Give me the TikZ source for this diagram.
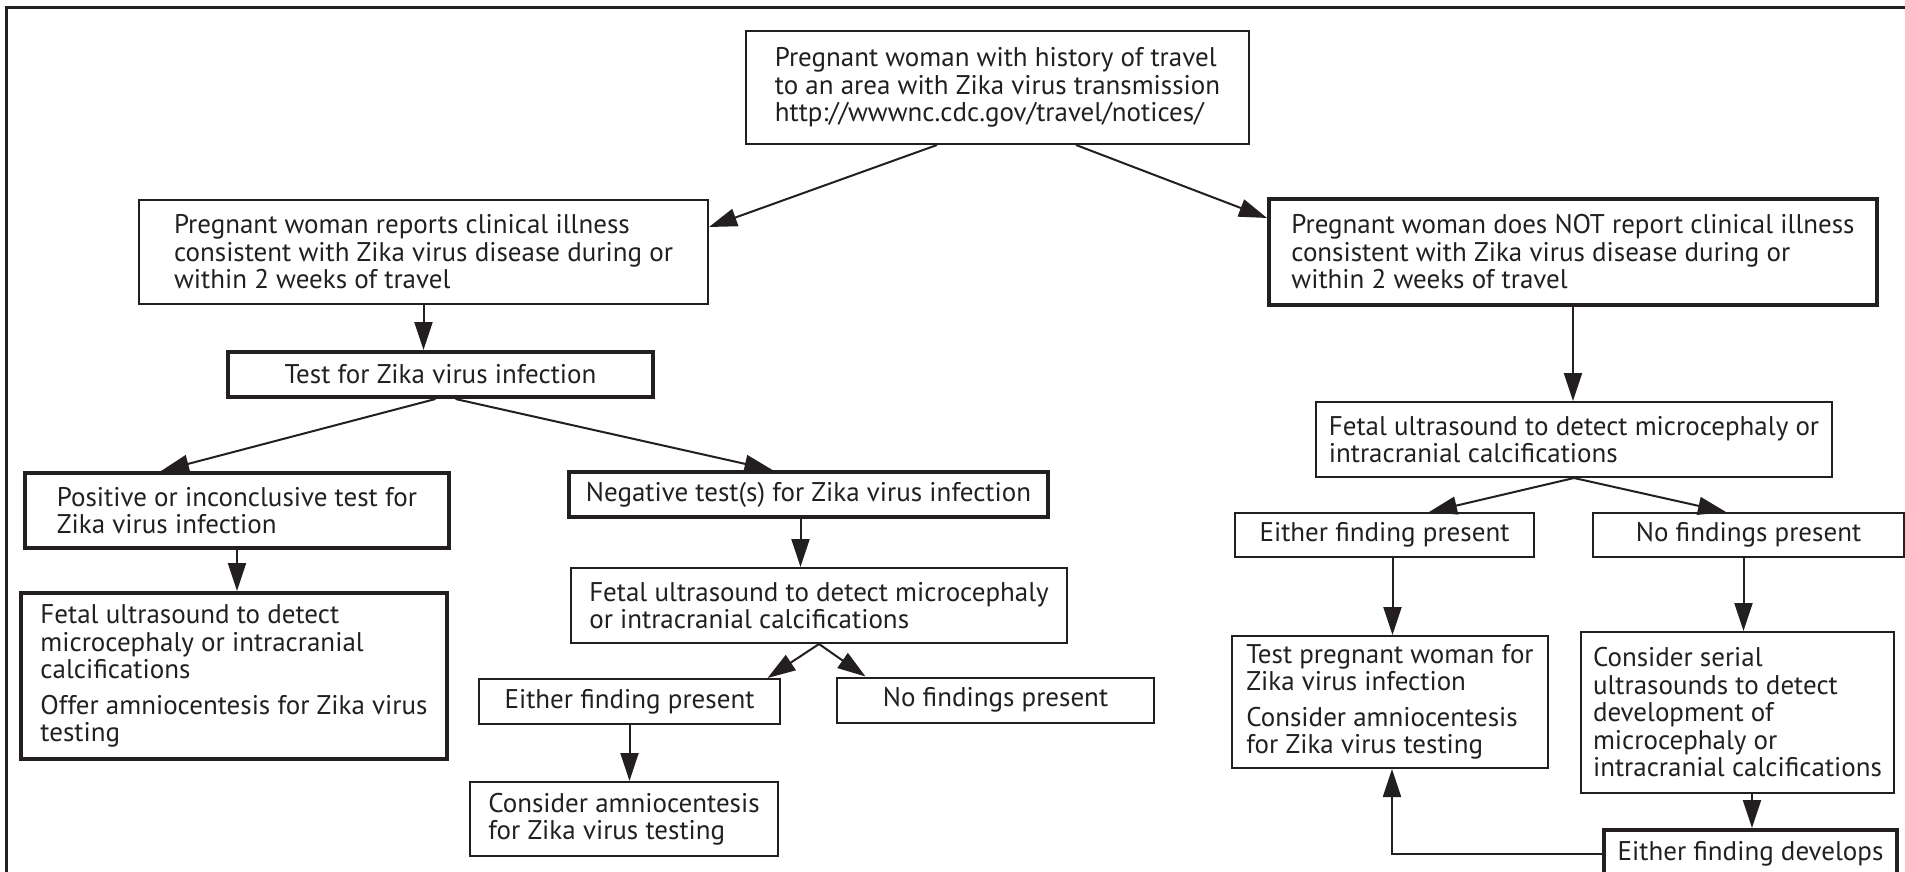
\documentclass[tikz,border=0pt]{standalone}
\usepackage{fontspec}
\setmainfont{PT Sans}
\usetikzlibrary{arrows.meta}
\definecolor{ink}{HTML}{231F20}
\newcommand{\zikafont}{\fontsize{27}{27.5}\selectfont}
\tikzset{
  box/.style={draw=ink, line width=2pt, align=left, inner sep=0pt, font=\zikafont, text=ink},
  boldbox/.style={box, line width=4pt},
  link/.style={draw=ink, line width=2pt, -{Triangle[length=28pt,width=18pt]}},
}
\begin{document}
\begin{tikzpicture}[x=1pt,y=-1pt]
\useasboundingbox (0,0) rectangle (1905,872);
\draw[ink, line width=3pt] (6,900) -- (6,8) -- (1930,8);

\node[box, minimum width=503, minimum height=113] (travel) at (997.5,87.5) {Pregnant woman with history of travel\\to an area with Zika virus transmission\\http://wwwnc.cdc.gov/travel/notices/};
\node[box, minimum width=569, minimum height=104] (ill) at (423.5,252) {Pregnant woman reports clinical illness\\consistent with Zika virus disease during or\\within 2 weeks of travel};
\node[boldbox, minimum width=608, minimum height=106] (noill) at (1573,252) {Pregnant woman does NOT report clinical illness\\consistent with Zika virus disease during or\\within 2 weeks of travel};

\node[boldbox, minimum width=425, minimum height=45] (test) at (440.5,374.5) {Test for Zika virus infection};
\node[boldbox, minimum width=424, minimum height=75] (pos) at (237,510.5) {Positive or inconclusive test for\\Zika virus infection};
\node[boldbox, minimum width=479, minimum height=45] (neg) at (808.5,494.5) {Negative test(s) for Zika virus infection};
\node[boldbox, minimum width=426, minimum height=166] (usA) at (234,676) {Fetal ultrasound to detect\\microcephaly or intracranial\\calcifications\\[8pt]Offer amniocentesis for Zika virus\\testing};
\node[box, minimum width=496, minimum height=75] (usB) at (819,605.5) {Fetal ultrasound to detect microcephaly\\or intracranial calcifications};
\node[box, minimum width=301, minimum height=45] (findB) at (629.5,701.5) {Either finding present};
\node[box, minimum width=317, minimum height=45] (noneB) at (995.5,700) {No findings present};
\node[box, minimum width=308, minimum height=74] (amnioB) at (624,819) {Consider amniocentesis\\for Zika virus testing};

\node[box, minimum width=516, minimum height=75] (usC) at (1574,439.5) {Fetal ultrasound to detect microcephaly or\\intracranial calcifications};
\node[box, minimum width=299, minimum height=44] (findC) at (1384.5,535) {Either finding present};
\node[box, minimum width=311, minimum height=44] (noneC) at (1748.5,535) {No findings present};
\node[box, minimum width=316, minimum height=132] (testC) at (1390,702) {Test pregnant woman for\\Zika virus infection\\[8pt]Consider amniocentesis\\for Zika virus testing};
\node[box, minimum width=313, minimum height=161] (serial) at (1737.5,712.5) {Consider serial\\ultrasounds to detect\\development of\\microcephaly or\\intracranial calcifications};
\node[boldbox, minimum width=293, minimum height=48] (develop) at (1750.5,854) {Either finding develops};

\draw[link] ([xshift=-60.5]travel.south) -- ([yshift=-28]ill.north east);
\draw[link] ([xshift=78.5]travel.south) -- ([yshift=-21]noill.north west);
\draw[link] (ill.south) -- (ill.south |- test.north);
\draw[link] ([xshift=-5]test.south) -- ([xshift=-76]pos.north);
\draw[link] ([xshift=15]test.south) -- ([xshift=-36]neg.north);
\draw[link] (pos.south) -- (pos.south |- usA.north);
\draw[link] ([xshift=-8]neg.south) -- ([xshift=-8]neg.south |- usB.north);
\draw[link] (usB.south) -- ([xshift=138]findB.north);
\draw[link] (usB.south) -- ([xshift=-130]noneB.north);
\draw[link] (findB.south) -- (findB.south |- amnioB.north);
\draw[link] (noill.south) -- (noill.south |- usC.north);
\draw[link] (usC.south) -- ([xshift=44.5]findC.north);
\draw[link] (usC.south) -- ([xshift=-22.5]noneC.north);
\draw[link] ([xshift=8]findC.south) -- ([xshift=8]findC.south |- testC.north);
\draw[link] ([xshift=-5]noneC.south) -- ([xshift=-5]noneC.south |- serial.north);
\draw[link] ([xshift=14.5]serial.south) -- ([xshift=14.5]serial.south |- develop.north);
\draw[link] (develop.west) -| ([xshift=2]testC.south);
\end{tikzpicture}
\end{document}
